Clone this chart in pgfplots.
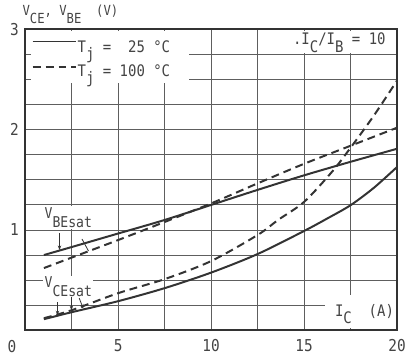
\documentclass[border=0pt]{standalone}
\usepackage{fontspec}
\setmainfont{DejaVu Sans Mono}[FakeStretch=0.88]
\usepackage{pgfplots}
\pgfplotsset{compat=1.18}
\usetikzlibrary{arrows.meta}
\definecolor{ink}{HTML}{333333}
\definecolor{gridc}{HTML}{5E5E5E}
\definecolor{txt}{HTML}{444444}
\newcommand{\lo}[2][0.6em]{\raisebox{-#1}{#2}}
\begin{document}
\begin{tikzpicture}
\begin{axis}[
  scale only axis, width=374.5pt, height=303pt,
  xmin=0, xmax=20, ymin=0, ymax=3,
  xtick={5,10,15,20}, ytick={1,2,3},
  minor xtick={0,2.5,...,20}, minor ytick={0,0.25,...,3},
  grid=both,
  major grid style={gridc, line width=0.9pt},
  minor grid style={gridc, line width=0.9pt},
  tick style={draw=none},
  axis line style={ink, line width=2pt},
  /pgf/number format/assume math mode=true,
  ticklabel style={font=\fontsize{16.5}{19}\selectfont, text=txt},
  xticklabel style={yshift=-6pt},
  yticklabel style={xshift=-3pt},
  clip=false,
]
% white label backgrounds
\fill[white] (axis cs:0.3,2.47) rectangle (axis cs:8.8,2.985);
\fill[white] (axis cs:13.3,2.765) rectangle (axis cs:19.94,2.985);
\fill[white] (axis cs:16.1,0.02) rectangle (axis cs:19.94,0.35);

% 25 C VBEsat
\addplot[ink, line width=2pt, smooth] coordinates {
 (1,0.75) (2.5,0.83) (5,0.965) (7.5,1.10) (10,1.25) (12.5,1.40) (15,1.545) (17.5,1.68) (20,1.81)};
% 100 C VBEsat
\addplot[ink, line width=2pt, smooth, dash pattern=on 8pt off 5pt] coordinates {
 (1,0.62) (2.5,0.725) (5,0.90) (7.5,1.08) (10,1.265) (12.5,1.465) (15,1.66) (17.5,1.84) (20,2.02)};
% 25 C VCEsat
\addplot[ink, line width=2pt, smooth] coordinates {
 (1,0.11) (2.5,0.18) (5,0.29) (7.5,0.42) (10,0.575) (12.5,0.76) (15,0.99) (16.25,1.115) (17.5,1.247) (18.75,1.42) (20,1.628)};
% 100 C VCEsat
\addplot[ink, line width=2pt, smooth, dash pattern=on 8pt off 5pt] coordinates {
 (1,0.12) (2.5,0.2) (5,0.37) (7.5,0.51) (10,0.69) (12.5,0.95) (13.6,1.10) (15,1.28) (16.5,1.58) (17.5,1.82) (18.75,2.14) (20,2.49)};

% legend
\draw[ink, line width=2pt] (axis cs:0.4,2.88) -- (axis cs:2.75,2.88);
\draw[ink, line width=2pt, dash pattern=on 8pt off 5pt] (axis cs:0.4,2.63) -- (axis cs:2.75,2.63);
\node[anchor=base west, text=txt, font=\fontsize{16}{19}\selectfont, inner sep=1pt] at (axis cs:2.75,2.77) {T\lo[0.45em]{j} = ~25 °C};
\node[anchor=base west, text=txt, font=\fontsize{16}{19}\selectfont, inner sep=1pt] at (axis cs:2.75,2.53) {T\lo[0.45em]{j} = 100 °C};
\node[anchor=base east, text=txt, font=\fontsize{16}{19}\selectfont, inner sep=1pt] at (axis cs:19.45,2.85) {.I\lo[0.5em]{C}/I\lo[0.5em]{B} = 10};

% curve labels
\node[anchor=west, fill=white, text=txt, font=\fontsize{15}{17}\selectfont, inner sep=1.5pt] at (axis cs:0.95,1.12) {V\lo[0.6em]{BEsat}};
\node[anchor=west, fill=white, text=txt, font=\fontsize{15}{17}\selectfont, inner sep=1.5pt] at (axis cs:0.95,0.43) {V\lo[0.6em]{CEsat}};
\draw[ink, line width=0.8pt, -{Stealth[length=4.5pt,width=3.5pt]}] (axis cs:1.84,0.97) -- (axis cs:1.84,0.80);
\draw[ink, line width=0.8pt] (axis cs:3.05,0.91) -- (axis cs:3.4,0.79);
\draw[ink, line width=0.8pt, -{Stealth[length=4.5pt,width=3.5pt]}] (axis cs:1.73,0.28) -- (axis cs:1.73,0.15);
\draw[ink, line width=0.8pt, -{Stealth[length=4.5pt,width=3.5pt]}] (axis cs:2.48,0.33) -- (axis cs:2.48,0.20);
\draw[ink, line width=0.8pt, -{Stealth[length=4.5pt,width=3.5pt]}] (axis cs:2.9,0.32) -- (axis cs:3.12,0.215);

% axis label IC
\node[anchor=west, text=txt, font=\fontsize{16}{19}\selectfont, inner sep=1pt] at (axis cs:16.6,0.16) {I\lo[0.45em]{C} ~(A)};
% y title
\node[anchor=base west, text=txt, font=\fontsize{14}{16}\selectfont, inner sep=0pt] at ([xshift=-3pt,yshift=14pt]rel axis cs:0,1) {V\lo[0.6em]{CE}, V\lo[0.6em]{BE} ~(V)};
% shared zero
\node[text=txt, font=\fontsize{16.5}{19}\selectfont] at ([xshift=-13.5pt,yshift=-16.5pt]rel axis cs:0,0) {0};
% frame on top
\draw[ink, line width=2pt] (rel axis cs:0,0) rectangle (rel axis cs:1,1);
\end{axis}
\path (-25.5pt,-24.3pt) rectangle (383.5pt,332.7pt);
\end{tikzpicture}
\end{document}
